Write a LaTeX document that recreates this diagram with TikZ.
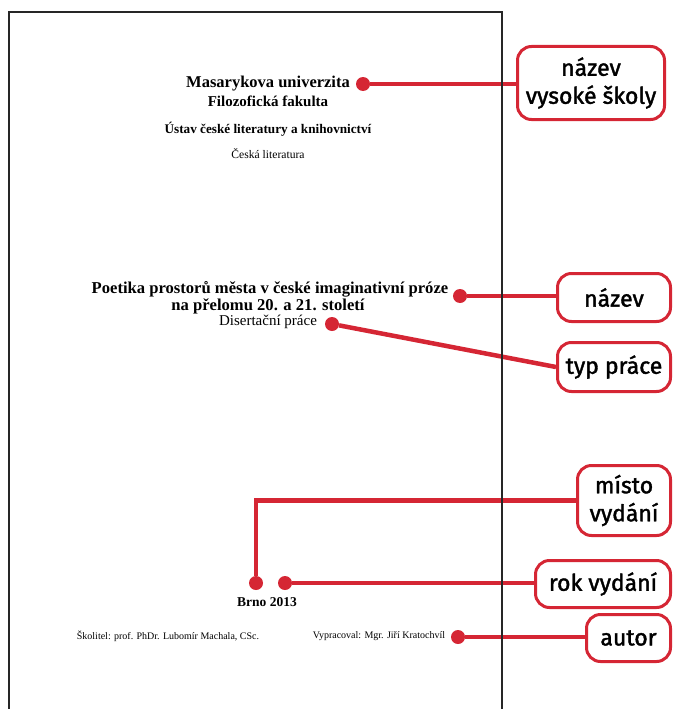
\documentclass[tikz,border=0pt]{standalone}
\usepackage{fontspec}
\setmainfont{Liberation Serif}
\newfontfamily\calloutfont[FakeBold=1.6]{Fira Sans}
\definecolor{mured}{RGB}{213,38,52}
\begin{document}
\begin{tikzpicture}[x=1pt,y=-1pt,
  reddot/.style={circle,fill=mured,inner sep=0pt,minimum size=14pt},
  callout/.style={draw=mured,line width=3pt,rounded corners=14pt,fill=white,align=center,inner sep=0pt,
    font=\calloutfont\fontsize{23}{28}\selectfont},
  conn/.style={mured,line width=4.5pt},
  pageline/.style={line width=1.8pt,black!85},
  txt/.style={inner sep=0pt}]

    \useasboundingbox (0,0) rectangle (674,709);

    % title page text
    \node[txt,font=\bfseries\fontsize{16.5}{18}\selectfont] (uni) at (268,84) {Masarykova univerzita};
    \node[txt,font=\bfseries\fontsize{15}{17}\selectfont] (fac) at (268,101) {Filozofická fakulta};
    \node[txt,font=\bfseries\fontsize{13.2}{15}\selectfont] (inst) at (268,129) {Ústav české literatury a knihovnictví};
    \node[txt,font=\fontsize{11.6}{13}\selectfont] (field) at (268,154) {Česká literatura};
    \node[txt,font=\bfseries\fontsize{16.6}{18}\selectfont] (title) at (270,289) {Poetika prostorů města v české imaginativní próze};
    \node[txt,font=\bfseries\fontsize{16.6}{18}\selectfont] (subtitle) at (268,306) {na přelomu 20. a 21. století};
    \node[txt,font=\fontsize{15}{17}\selectfont] (kind) at (268,322) {Disertační práce};
    \node[txt,font=\bfseries\fontsize{13.5}{15}\selectfont] (year) at (267,602) {Brno 2013};
    \node[txt,font=\fontsize{10}{12}\selectfont] (super) at (168,636) {Školitel: prof. PhDr. Lubomír Machala, CSc.};
    \node[txt,font=\fontsize{10}{12}\selectfont] (author) at (379,636) {Vypracoval: Mgr. Jiří Kratochvíl};

    % callouts
    \node[callout,minimum width=147pt,minimum height=73pt] (b1) at (591,83) {název\\vysoké školy};
    \node[callout,minimum width=113pt,minimum height=48pt] (b2) at (614,297.5) {název};
    \node[callout,minimum width=113pt,minimum height=49pt] (b3) at (614,367) {typ práce};
    \node[callout,minimum width=93pt,minimum height=70pt] (b4) at (624,500.5) {místo\\vydání};
    \node[callout,minimum width=135pt,minimum height=47pt] (b5) at (603,584) {rok vydání};
    \node[callout,minimum width=84pt,minimum height=47pt] (b6) at (628.5,638) {autor};

    % dots
    \node[reddot] (d1) at (363,84) {};
    \node[reddot] (d2) at (460,296) {};
    \node[reddot] (d3) at (332,324) {};
    \node[reddot] (d4) at (256,583) {};
    \node[reddot] (d5) at (285,583) {};
    \node[reddot] (d6) at (458,637) {};

    \draw[conn] (d1) -- (d1 -| b1.west);
    \draw[conn] (d2) -- (d2 -| b2.west);
    \draw[conn] (d3) -- (b3.west);
    \draw[conn] (d4) |- (b4.west);
    \draw[conn] (d5) -- (d5 -| b5.west);
    \draw[conn] (d6) -- (d6 -| b6.west);

    % page frame
    \draw[pageline] (9,709) -- (9,12) -- (502,12) -- (502,709);
\end{tikzpicture}
\end{document}
